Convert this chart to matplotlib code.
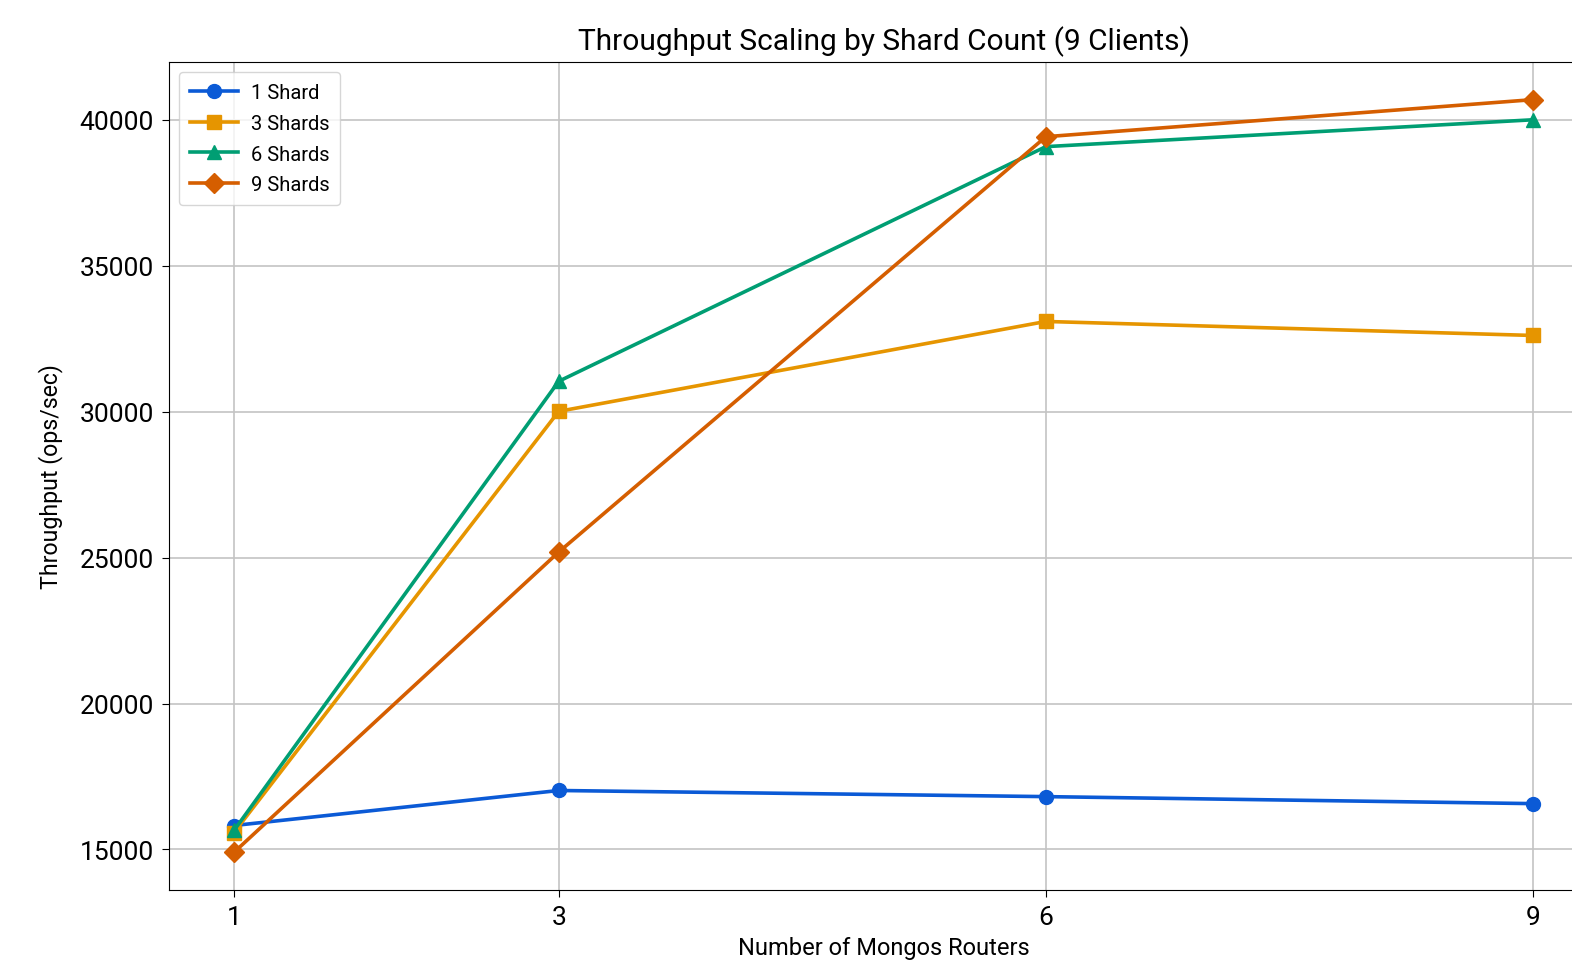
import matplotlib
matplotlib.use("Agg")
import matplotlib.pyplot as plt

plt.rcParams['font.family'] = ['Roboto', 'DejaVu Sans']

routers = [1, 3, 6, 9]
shard_labels = ['1 Shard', '3 Shards', '6 Shards', '9 Shards']
tput_1 = [15820, 17020, 16810, 16570]
tput_3 = [15580, 30010, 33090, 32610]
tput_6 = [15650, 31040, 39080, 40000]
tput_9 = [14900, 25190, 39420, 40690]

colors = ['#0b5ad6', '#e69500', '#009e73', '#d55e00']
markers = ['o', 's', '^', 'D']

fig = plt.figure(figsize=(15.72, 9.7), dpi=100)
# axes runs slightly past the right edge, like the reference crop
ax = fig.add_axes([169/1572, 1 - 891/970, (1598-169)/1572, (891-63)/970])

for ys, lab, c, m in zip([tput_1, tput_3, tput_6, tput_9], shard_labels, colors, markers):
    ax.plot(routers, ys, color=c, marker=m, lw=2.6, markersize=10, label=lab)

ax.set_xticks(routers)
ax.set_yticks([15000, 20000, 25000, 30000, 35000, 40000])
ax.tick_params(labelsize=19, length=5, pad=6)
ax.grid(True, color='#c4c4c4', lw=1.2)
ax.set_title('Throughput Scaling by Shard Count (9 Clients)', fontsize=21.5, pad=9)
ax.set_xlabel('Number of Mongos Routers', fontsize=17, labelpad=5)
ax.set_ylabel('Throughput (ops/sec)', fontsize=16.7, labelpad=12)
ax.legend(loc='upper left', fontsize=14.5, handlelength=2.4, handletextpad=0.6,
          borderpad=0.55, labelspacing=0.58)

fig.savefig('out.png', dpi=100)
